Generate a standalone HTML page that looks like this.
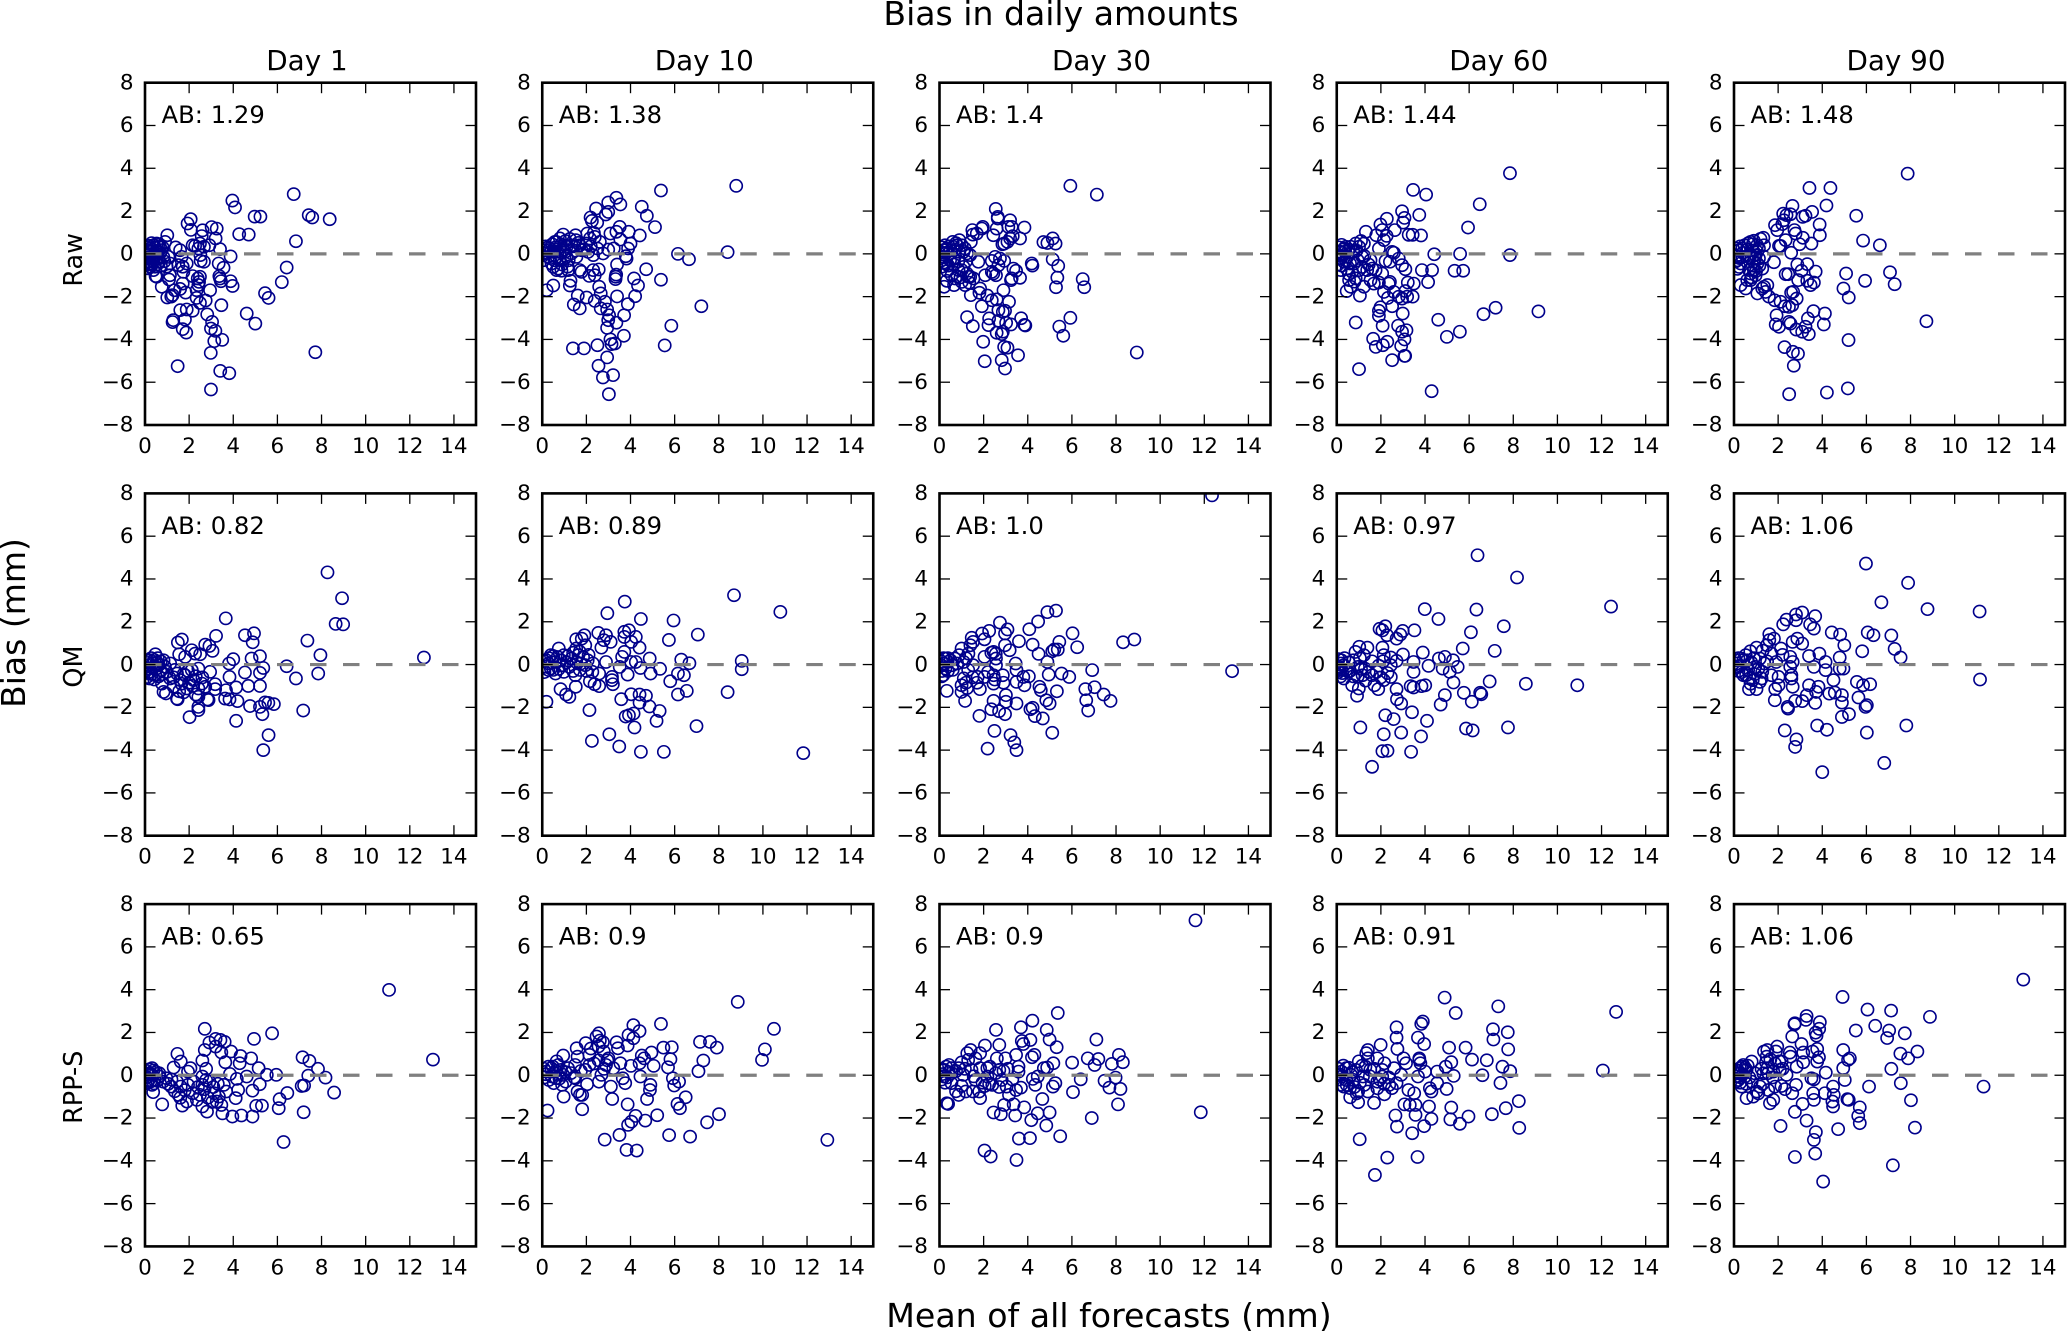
<!DOCTYPE html>
<html lang="en">
<head>
<meta charset="utf-8">
<title>Bias in daily amounts</title>
<style>
html,body{margin:0;padding:0;background:#fff;}
svg{display:block;}
text{font-family:"DejaVu Sans","Liberation Sans",sans-serif;fill:#000;}
</style>
</head>
<body>
<svg id="figure" xmlns="http://www.w3.org/2000/svg" width="2067" height="1331" viewBox="0 0 2067 1331">
<rect x="0" y="0" width="2067" height="1331" fill="#fff"/>
<text x="1061" y="25" text-anchor="middle" font-size="33.1">Bias in daily amounts</text>
<text x="1109" y="1327" text-anchor="middle" font-size="33.2">Mean of all forecasts (mm)</text>
<text transform="translate(25 623) rotate(-90)" text-anchor="middle" font-size="33">Bias (mm)</text>
</svg>
<script>
const rowLabels = ['Raw','QM','RPP-S'];
const dayLabels = ['Day 1','Day 10','Day 30','Day 60','Day 90'];
const abRaw = ['1.29','1.38','1.4','1.44','1.48'];
const abQm = ['0.82','0.89','1.0','0.97','1.06'];
const abRpp = ['0.65','0.9','0.9','0.91','1.06'];
const xTicks = [0,2,4,6,8,10,12,14];
const yTicks = [-8,-6,-4,-2,0,2,4,6,8];

const rawDay1 = [[6.74,2.79],[3.96,2.49],[4.08,2.17],[4.97,1.74],[5.23,1.74],[7.42,1.81],[7.58,1.7],[8.37,1.62],[6.84,.59],[4.27,.92],[4.7,.9],[2.07,1.62],[1.93,1.42],[2.08,1.12],[2.61,1.1],[3.02,1.25],[3.25,1.18],[3.2,.72],[2.57,.83],[1.01,.87],[3.4,.22],[3.88,-.12],[6.42,-.64],[6.2,-1.32],[5.44,-1.84],[5.6,-2.06],[4.61,-2.79],[5,-3.26],[7.72,-4.6],[3.46,-2.4],[2.95,-1.7],[2.82,-2.83],[3.04,-3.18],[2.99,-3.49],[3.19,-3.6],[3.14,-4.08],[3.5,-4.02],[2.98,-4.63],[1.48,-5.25],[3.41,-5.47],[3.82,-5.58],[2.99,-6.34],[1.28,-3.1],[1.25,-3.19],[1.81,-3.07],[1.71,-3.52],[1.87,-3.68],[1.6,-2.63],[1.89,-2.6],[2.16,-2.66],[2.75,-2.18],[2.49,-2.29],[2.34,-2.06],[1.01,-2.04],[1.25,-1.93],[1.19,-2],[1.34,-1.7],[1.84,-1.81],[.76,-1.54],[1.71,-1.39],[1.59,-1.64],[2.34,-1.7],[2.42,-1.46],[2.49,-1.07],[2.45,-1.31],[2.39,-1.15],[2.16,-1.04],[3.37,-1.04],[3.44,-1.28],[3.4,-1.15],[3.88,-1.28],[3.97,-1.5],[3.34,-.45],[3.56,-.65],[2.67,-.37],[2.52,-.33],[2.51,-.06],[2.27,.37],[2.16,.4],[2.49,.48],[2.67,.33],[2.92,.4],[2.42,.25],[1.89,-.45],[1.71,-.6],[1.51,-.53],[1.74,-.84],[1.13,-1],[1.09,-1.2],[.53,-1.07],[.48,-1.04],[1.13,-.45],[1.06,-.14],[1.39,.3],[1.59,.17],[1.66,-.14],[.91,.56],[.38,.4],[.53,.48],[.68,.33],[.23,.25],[.15,-.06],[.08,-.22],[.23,-.45],[.45,-.6],[.65,-.37],[.83,-.14],[.6,.09],[.38,.02],[.2,.09],[.08,.17],[.3,-.22],[.53,-.22],[.75,.17],[.15,-.68],[.38,-.76],[.98,-.6]];
const rawDay1Core = [[.1,.3],[.3,.5],[.45,.3],[.6,.42],[.7,.05],[.28,.12],[.5,-.08],[.15,-.35],[.35,-.35],[.55,-.5],[.72,-.55],[.25,-.6],[.12,-.5],[.42,-.14],[.62,-.2],[.05,0],[.18,.38],[.8,.3],[.88,-.35],[.32,-.5],[.06,-.42],[.52,.15]];

const rawDay10 = [[8.79,3.18],[5.38,2.96],[3.36,2.62],[3.54,2.31],[2.99,2.4],[2.44,2.12],[4.51,2.2],[4.74,1.78],[5.11,1.25],[2.99,1.96],[2.88,1.84],[2.19,1.7],[2.25,1.54],[2.49,1.46],[3.51,1.26],[3.36,1.03],[3.92,1.03],[3.09,.95],[4.42,.86],[3.54,.67],[4,.48],[3.89,.25],[3.24,.25],[2.99,.2],[2.04,.95],[2.34,.98],[2.38,.79],[2.16,.72],[1.51,.87],[.95,.9],[.8,.72],[.57,.56],[1.52,.64],[1.63,.51],[1.33,.4],[1.1,.33],[1.98,.48],[2.61,.56],[2.76,.02],[6.15,0],[6.65,-.25],[8.4,.08],[3.82,-.22],[3.79,-.11],[3.39,-.5],[4.71,-.72],[3.35,-.97],[3.32,-1.18],[3.33,-1.07],[4.16,-1.15],[5.38,-1.21],[4.34,-1.48],[4.21,-1.98],[3.39,-1.99],[3.88,-2.35],[3.71,-2.87],[7.21,-2.45],[5.85,-3.36],[5.55,-4.28],[2.58,-1.54],[2.65,-1.85],[2.84,-2.24],[2.65,-2.55],[2.94,-2.6],[2.38,-2.2],[2.01,-2.04],[1.61,-1.95],[1.43,-2.37],[1.7,-2.55],[.2,-1.7],[.5,-1.48],[1.25,-1.48],[1.28,-1.26],[1.18,-.76],[.87,-.79],[.72,-.69],[.5,-.61],[1.7,-.76],[1.78,-.84],[2.13,-1.03],[2.31,-.76],[2.38,-1],[2.56,-.73],[3.03,-2.87],[2.99,-3.1],[3.36,-3.22],[2.94,-3.46],[3.7,-3.83],[3.09,-4],[3.29,-4.19],[3.14,-4.22],[2.5,-4.27],[1.39,-4.42],[1.89,-4.42],[2.94,-4.84],[2.55,-5.23],[3.21,-5.67],[2.75,-5.78],[3.02,-6.56],[.05,-.3],[.12,.17],[.35,.25],[.5,.09],[.65,-.14],[.27,-.14],[.42,-.45],[.8,-.3],[1.1,-.14],[1.03,.09],[1.33,.02],[1.55,-.14],[2.08,.09],[2.31,-.06],[1.78,.17],[.2,.02],[.8,.33],[.05,.05],[.65,-.76]];
const rawDay10Core = [[.25,.3],[.45,.45],[.65,.55],[.85,.45],[1.05,.6],[1.25,.7],[1.45,.35],[1.7,.4],[1.9,.2],[.95,.15],[.7,.1],[.4,.1],[.15,.35],[.55,-.3],[.9,-.5],[1.2,-.3],[.35,-.2],[.6,.3],[1.5,.15],[2.2,.35],[2.5,.25],[1.15,-.6]];

const rawDay30 = [[5.93,3.18],[7.13,2.77],[8.94,-4.61],[2.55,2.1],[2.64,1.73],[2.64,1.65],[3.2,1.57],[3.85,1.23],[3.27,1.26],[3.12,1.26],[2.59,1.18],[1.96,1.26],[1.92,1.18],[1.49,1.11],[1.69,.95],[1.51,.9],[1.42,.56],[2.44,.87],[3.65,.72],[3.32,.83],[3.2,.72],[3.08,.56],[2.93,.48],[2.85,.45],[4.71,.55],[5.13,.72],[4.89,.51],[5.26,.48],[.9,.64],[.6,.56],[.78,.4],[1.01,.4],[.63,.33],[.33,.25],[.18,.17],[1.24,.02],[1.76,-.37],[2.52,-.14],[2.74,-.22],[2.93,-.33],[2.37,-.33],[2.67,-.53],[2.37,-.84],[2.56,-1],[2.44,-.92],[2.07,-1],[3.35,-.69],[3.47,-.79],[3.65,-1.12],[3.24,-1.23],[3.27,-1.15],[4.18,-.45],[4.21,-.55],[5.13,-.26],[5.38,-.56],[5.34,-1.11],[5.28,-1.56],[6.49,-1.18],[6.56,-1.56],[2.9,-1.7],[3.15,-2.24],[1.84,-1.62],[1.81,-1.82],[1.42,-1.93],[2.17,-1.95],[2.37,-2.17],[2.59,-2.13],[1.92,-2.45],[2.97,-2.66],[2.67,-2.63],[2.87,-2.71],[1.25,-2.96],[1.51,-3.38],[2.25,-3.02],[2.67,-3.13],[2.22,-3.33],[3.02,-3.22],[3.24,-3.3],[3.7,-3.01],[3.85,-3.32],[3.89,-3.35],[5.93,-2.99],[5.43,-3.4],[5.61,-3.83],[2.59,-3.69],[2.82,-3.75],[2.87,-3.64],[1.98,-4.11],[2.93,-4.35],[3.08,-4.39],[3.56,-4.74],[2.82,-4.97],[2.05,-5.02],[2.97,-5.36],[.26,-.45],[.33,-1.26],[.21,-1.54],[.66,-1.46],[.71,-1.15],[1.09,-.61],[1.24,-.92],[1.01,-1.31],[1.16,-1.46],[1.39,-1.07],[.86,-.76],[1.54,-1.15],[1.01,-.76],[.48,-.3],[.11,-.3],[.18,-.14],[1.31,-1.07],[.63,-.22],[1.39,-.06],[1.09,.09]];
const rawDay30Core = [[.1,.3],[.25,.4],[.42,.35],[.5,.15],[.7,.2],[.9,.1],[.3,.05],[.12,.05],[.2,-.4],[.4,-.55],[.65,-.5],[.85,-.35],[.1,-.6],[.35,-.8],[.55,-1],[.8,-1.05],[1.2,-.35],[.05,-.2],[.75,.5],[1.15,.25],[.95,-1.1],[1.35,-1.35]];

const rawDay60 = [[7.85,3.77],[3.46,2.99],[4.05,2.77],[6.48,2.32],[3.74,1.82],[2.96,1.99],[3.07,1.68],[3.01,1.46],[2.27,1.64],[1.98,1.37],[2.06,1.11],[5.95,1.23],[2.63,1.11],[1.32,1.03],[1.79,.87],[2.26,.84],[2.14,.64],[3.26,.89],[3.44,.89],[3.82,.86],[1.91,.25],[2.51,.09],[2.59,.05],[4.42,-.02],[5.59,0],[7.85,-.06],[1.23,.48],[.86,.48],[1.01,.33],[.63,.33],[.33,.25],[.18,.09],[.41,.33],[2.81,-.22],[2.21,-.33],[2.41,-.37],[2.96,-.53],[3.11,-.72],[3.86,-.76],[4.32,-.76],[5.34,-.79],[5.73,-.79],[4.14,-1.32],[3.49,-1.39],[3.22,-1.34],[2.41,-1.31],[2.36,-1.39],[2.14,-1.78],[2.59,-1.78],[3.11,-1.74],[3.19,-2],[3.44,-2],[2.81,-2],[2.96,-2.09],[2.32,-2.06],[2.51,-2.45],[1.98,-2.5],[1.91,-2.66],[1.91,-2.9],[2.99,-2.79],[2.08,-3.36],[2.78,-3.36],[3.16,-3.57],[2.96,-3.64],[3.07,-4],[2.92,-4.3],[2.29,-4.11],[2.09,-4.27],[1.65,-3.97],[1.77,-4.35],[3.07,-4.77],[3.1,-4.77],[2.51,-4.97],[1.01,-5.39],[.86,-3.21],[4.6,-3.08],[4.99,-3.88],[5.58,-3.64],[6.65,-2.82],[7.2,-2.52],[9.14,-2.69],[4.3,-6.42],[1.05,-1.95],[.45,-1.74],[.63,-1.54],[.86,-1.15],[1.23,-1.54],[1.53,-1.23],[1.68,-1.39],[1.91,-1.34],[1.01,-.76],[1.16,-.61],[1.38,-.76],[1.61,-.69],[1.76,-.76],[.56,-1.23],[.18,-.76],[.33,-.37],[.18,-.22],[.78,-.45],[1.16,-.14],[1.53,-.3],[2.06,-.92],[.1,-.06],[.48,-.14]];
const rawDay60Core = [[.1,.3],[.22,.42],[.38,.1],[.55,.2],[.75,.1],[.9,.15],[.1,-.2],[.25,-.1],[.4,-.3],[.6,-.45],[.05,-.5],[.22,-.55],[.45,-.7],[.7,-.85],[.95,-.3],[1.25,-.1],[1.45,-.5],[.3,.2],[.12,.1],[1.1,.6],[.55,-.95],[.8,-1.3]];

const rawDay90 = [[7.87,3.75],[3.42,3.08],[4.37,3.08],[4.19,2.26],[2.65,2.24],[3.54,1.96],[3.24,1.78],[3.11,1.73],[2.23,1.88],[2.38,1.81],[2.56,1.85],[5.54,1.78],[3.88,1.37],[2.26,1.57],[2.19,1.39],[1.86,1.34],[1.96,1.11],[2.74,1.11],[2.79,.95],[3.89,.87],[3.12,.75],[2.34,.64],[3.51,.48],[2.97,.45],[5.85,.62],[6.61,.4],[2.04,.37],[2.11,.37],[2.59,.05],[1.33,.75],[.9,.61],[.75,.56],[1.36,.4],[1.13,.25],[.38,.25],[.23,.17],[1.81,-.39],[2.87,-.5],[3.32,-.48],[3.06,-.79],[3.7,-.83],[2.34,-.95],[2.46,-.95],[2.91,-1.23],[3.32,-1.26],[3.62,-1.34],[3.47,-1.46],[5.08,-.92],[7.07,-.86],[7.28,-1.42],[5.94,-1.26],[4.96,-1.62],[5.2,-2.04],[2.59,-1.81],[2.68,-1.78],[2.84,-2.09],[2.64,-2.4],[2.49,-2.48],[2.31,-2.45],[2.11,-2.24],[1.84,-2.17],[1.58,-2],[3.6,-2.68],[4.12,-2.79],[3.35,-3.02],[4.07,-3.3],[8.72,-3.15],[1.93,-2.87],[1.89,-3.3],[2.04,-3.41],[2.49,-3.18],[2.56,-3.26],[2.82,-3.54],[3.09,-3.64],[3.24,-3.41],[3.39,-3.75],[5.19,-4.03],[2.29,-4.36],[2.67,-4.58],[2.9,-4.67],[2.71,-5.23],[2.5,-6.56],[4.21,-6.48],[5.16,-6.29],[1.06,-1.85],[.53,-1.62],[.3,-1.46],[.75,-1.23],[1.36,-1.54],[1.51,-1.46],[1.43,-1.78],[1.28,-1.62],[.9,-.76],[.98,-1],[.75,-.92],[1.28,-.69],[1.06,-.45],[.23,-.61],[.15,-.3],[.38,-.14],[.98,-.06],[1.13,-.22],[1.36,-.14],[.68,-.76],[.9,-.37],[.6,-1.23]];
const rawDay90Core = [[.1,.25],[.28,.35],[.48,.4],[.65,.5],[.85,.45],[1.05,.4],[.6,.2],[.85,.15],[1.05,.1],[.1,-.1],[.25,-.2],[.08,-.35],[.3,-.45],[.15,-.7],[.95,-.2],[1.15,-.55],[.85,-.55],[.7,-.15],[1.0,-.8],[.8,-1.1],[.4,.05],[1.2,.7]];

const qmDay1 = [[8.27,4.31],[8.93,3.1],[8.64,1.9],[8.98,1.88],[12.64,.33],[3.66,2.16],[3.22,1.34],[4.53,1.37],[4.94,1.46],[4.88,1.04],[7.36,1.12],[7.95,.44],[5.21,.39],[4.83,.28],[4,.25],[3.81,.05],[1.67,1.17],[1.49,1.03],[2.73,.93],[2.92,.87],[3.06,.64],[2.12,.67],[1.55,.48],[1.82,.36],[2.27,.51],[2.5,.48],[.47,.48],[6.42,-.08],[6.84,-.65],[7.85,-.42],[5.36,-.16],[5.21,-.39],[4.53,-.37],[3.83,-.58],[2.95,-.34],[4.68,-1],[5.21,-1],[4.13,-1.07],[3.67,-1.2],[3.18,-.92],[3.18,-1.15],[3.63,-1.59],[3.83,-1.63],[4.19,-1.71],[4.76,-1.94],[5.21,-1.98],[5.32,-2.32],[5.44,-1.77],[5.59,-1.79],[5.84,-1.85],[7.17,-2.15],[4.13,-2.63],[5.6,-3.3],[5.36,-4],[2.02,-2.46],[2.42,-1.98],[2.42,-2.13],[2.88,-1.66],[2.83,-1.63],[2.42,-1.51],[1.48,-1.62],[1.45,-1.59],[.95,-1.35],[.84,-1.28],[2.42,-1.12],[2.58,-.89],[2.2,-.73],[1.9,-1.12],[1.6,-.73],[1.3,-1.04],[1.14,-.65],[1.45,-.42],[1.82,-.5],[2.12,-.26],[2.42,-.19],[2.73,-1.04],[.77,-.89],[.99,-.34],[1.14,.05],[.84,.2],[.54,.12],[.24,.2],[.09,-.03],[.24,-.34],[.47,-.5],[.69,-.26],[.39,-.11],[.62,-.03],[.17,-.19],[.09,-.58]];
const qmDay1Core = [[.1,.2],[.28,.3],[.42,.22],[.58,.3],[.72,.15],[.35,.05],[.15,.08],[.5,-.2],[.3,-.45],[.12,-.4],[.62,-.55],[.8,-.45],[.2,-.65],[.42,-.7],[.05,-.25],[.9,-.1],[1.3,-.6],[1.65,-.9],[2,-.85],[1.75,-.45],[2.3,-.55],[2.6,-.6],[1.35,-.25],[1.95,-.3],[2.15,-1],[1.55,-1.25],[1.75,-1.3],[2.3,-1.4]];

const qmDay10 = [[3.74,2.94],[2.95,2.4],[4.47,2.13],[5.95,2.06],[8.69,3.24],[10.79,2.46],[11.83,-4.14],[7.05,1.4],[5.74,1.15],[8.4,-1.29],[9.04,.17],[9.04,-.22],[6.67,.06],[6.3,.23],[6.99,-2.88],[5.51,-4.08],[4.47,-4.08],[3.49,-3.83],[3.04,-3.26],[2.25,-3.57],[4.18,-2.94],[5.18,-2.63],[5.32,-2.17],[4.86,-1.96],[4.41,-1.78],[4.7,-1.46],[4.41,-1.4],[4.03,-1.39],[3.58,-1.62],[4.14,-2.29],[3.93,-2.37],[3.78,-2.43],[2.14,-2.13],[6.55,-1.23],[6.15,-1.4],[5.8,-.78],[6.42,-.5],[6.15,-.42],[5.34,-.2],[4.91,-.42],[4.87,.28],[4.45,-.16],[3.87,-.47],[3.2,-.92],[3.16,-.73],[3.16,-.58],[2.58,-1.01],[2.37,-.92],[2.16,-.78],[1.52,-1.04],[1.23,-1.51],[1.08,-1.4],[.83,-1.15],[.19,-1.74],[1.5,-.5],[2.58,-.42],[2.27,-.34],[4.24,.12],[4.03,.12],[3.51,-.11],[3.62,.36],[3.72,.59],[4.41,.79],[4.24,1.29],[3.93,1.6],[3.72,1.53],[3.72,1.29],[4.03,1.06],[2.89,.12],[3.1,1.06],[2.79,1.14],[2.89,1.37],[2.54,1.48],[2.68,.79],[1.91,1.37],[1.79,1.21],[1.54,1.18],[1.95,.9],[1.54,.75],[1.64,.44],[2.06,.2],[.75,.75],[.39,.44],[.19,.2],[.6,.12],[.98,.44],[.89,-.03],[.39,-.19],[.6,-.42],[1.23,-.11],[1.33,.28],[1.54,.12],[1.95,-.03],[.29,.05],[.98,-.34]];
const qmDay10Core = [[.1,.15],[.3,.3],[.5,.4],[.7,.35],[.85,.2],[.45,.1],[.15,-.1],[.28,-.25],[.5,-.25],[.75,-.2],[1.15,.4],[1.4,.55],[1.7,.6],[1.85,.35],[1.1,.1],[1.75,.05],[2.1,.45],[1.4,-.3],[1.7,-.25],[2,-.3],[2.3,.05],[.1,-.35]];

const qmDay30 = [[12.35,7.91],[13.26,-.31],[5.28,2.52],[4.89,2.45],[4.47,2.01],[4.07,1.65],[2.74,1.96],[3.08,1.64],[6.03,1.46],[6.24,.81],[5.43,1.06],[8.32,1.04],[8.83,1.17],[3.6,1.09],[4.22,.93],[4.49,.5],[5.2,.7],[5.36,.7],[5.11,.62],[4.89,.12],[3.18,.67],[2.97,.9],[2.97,1.45],[2.25,1.57],[1.93,1.45],[1.46,1.25],[2.04,1.18],[1.52,1.06],[2.45,.59],[2.56,.28],[2.04,.36],[1,.75],[1.31,.51],[3.45,.05],[3.49,-.26],[6.92,-.26],[5.53,-.42],[5.88,-.58],[4.95,-.47],[4.05,-.55],[3.8,-.58],[3.49,-.81],[3.85,-.97],[4.53,-1.04],[4.59,-1.2],[5.32,-1.25],[6.61,-1.15],[7.03,-1.06],[7.44,-1.4],[6.65,-1.67],[7.75,-1.7],[6.74,-2.15],[4.99,-1.82],[4.84,-1.67],[3.49,-1.82],[3.01,-1.43],[3.01,-1.74],[2.45,-1.7],[2.35,-2.09],[2.7,-2.18],[2.97,-2.32],[1.16,-1.7],[1.83,-1.15],[.33,-1.23],[1,-1.28],[1.81,-2.4],[4.22,-2.02],[4.12,-2.09],[4.32,-2.41],[4.68,-2.52],[5.11,-3.19],[2.49,-3.1],[3.22,-3.3],[3.39,-3.64],[3.49,-4],[2.18,-3.93],[1.1,-.65],[1.73,-.58],[2.04,-.58],[2.45,-.5],[2.87,-.5],[2.56,-.03],[1.52,-.03],[1.1,.12],[.69,.28],[.37,.12],[.27,-.19],[.17,-.5],[1,-.97],[2.45,-.89],[.58,-.03],[.89,.44],[.27,.28]];
const qmDay30Core = [[.08,.15],[.18,.3],[.38,.3],[.5,.2],[.1,-.05],[.22,.05],[.12,-.3],[.38,-.3],[.6,-.25],[.1,-.55],[.8,.05],[1.2,.3],[1.3,-.25],[1.5,-.6],[1.2,-.85],[1.25,-1.1],[1.7,-.85],[2.2,-.35],[2.5,-.7],[2.9,-.85],[2.35,.55],[2.55,.5],[1.4,.9]];

const qmDay60 = [[6.38,5.11],[8.17,4.07],[12.43,2.71],[3.99,2.59],[4.61,2.13],[6.33,2.57],[7.57,1.79],[6.08,1.51],[3.52,1.6],[2.99,1.57],[2.88,1.4],[2.71,1.21],[2.2,1.79],[1.94,1.67],[2.07,1.6],[2.28,1.37],[5.71,.75],[7.16,.64],[3.9,.56],[3,.47],[2.07,.79],[1.39,.79],[1.02,.83],[.85,.59],[1.23,.44],[4.9,.36],[4.63,.28],[5.27,.2],[5.48,-.11],[4.16,-.06],[3.48,.12],[2.13,.44],[2.45,.33],[2.71,.17],[8.57,-.9],[10.9,-.97],[6.93,-.79],[5.29,-.84],[4.01,-.97],[3.84,-1.01],[3.48,-1.07],[3.35,-1.01],[2.71,-1.15],[5.76,-1.32],[6.5,-1.32],[6.55,-1.39],[4.9,-1.43],[4.71,-1.87],[6.12,-1.74],[2.73,-1.62],[2.92,-1.82],[3.41,-2.23],[4.09,-2.63],[2.2,-2.37],[2.58,-2.55],[2.13,-3.26],[2.92,-3.18],[3.82,-3.36],[1.07,-2.94],[5.86,-2.99],[6.16,-3.08],[7.76,-2.94],[2.07,-4.05],[2.3,-4.03],[3.37,-4.08],[1.6,-4.78],[.92,-1.46],[1,-1.12],[.7,-.97],[1.71,-.97],[1.88,-1.15],[5.12,-.34],[4.8,-.19],[3.48,-.34],[2.45,-.58],[2.13,-.73],[1.6,-.5],[1.17,-.5],[.32,-.65],[.53,-.34],[.21,.2],[.32,-.03],[1.28,-.19],[1.81,-.34],[2.45,-.03],[.75,.2],[.11,-.26],[.96,-.11]];
const qmDay60Core = [[.08,.25],[.2,.05],[.35,.3],[.55,.1],[.08,-.1],[.2,-.2],[.08,-.35],[.25,-.4],[.42,-.25],[.6,-.3],[.18,-.55],[.75,-.55],[.95,-.55],[1.3,-.75],[1.45,-.35],[1.1,-.2],[1.9,-.05],[2.1,.15],[2.3,-.4],[2,-.6],[1.6,.15],[1.05,.3]];

const qmDay90 = [[5.98,4.72],[7.89,3.82],[6.68,2.91],[8.77,2.59],[11.13,2.48],[11.15,-.7],[3.09,2.43],[2.81,2.34],[2.81,2.07],[3.68,2.26],[3.45,1.88],[3.62,1.68],[2.38,2.1],[2.23,1.88],[4.43,1.5],[4.81,1.4],[6.06,1.5],[6.32,1.37],[7.13,1.36],[5,.9],[7.28,.73],[5.81,.62],[7.55,.33],[3.87,.51],[3.4,.4],[4.79,.33],[4.15,.12],[3.62,-.11],[4.15,-.26],[4.79,-.19],[4.96,-.19],[4.51,-.73],[5.57,-.81],[5.85,-.97],[6.17,-.92],[3.83,-1.04],[3.4,-.97],[3.72,-1.28],[4.32,-1.36],[4.57,-1.31],[4.89,-1.43],[5.64,-1.54],[4.89,-1.78],[3.68,-1.79],[3.09,-1.71],[2.77,-1.7],[3.3,-1.43],[1.85,-1.67],[2.45,-2.06],[2.43,-1.98],[5.96,-1.98],[6.02,-1.9],[5.21,-2.32],[4.89,-2.45],[3.77,-2.85],[4.21,-3.05],[6.02,-3.18],[7.81,-2.85],[2.3,-3.08],[2.83,-3.5],[2.77,-3.85],[6.81,-4.6],[4,-5.03],[1.6,1.42],[1.81,1.21],[1.6,1.14],[2.66,1.06],[2.87,1.21],[3.09,.98],[1.02,.79],[1.49,.9],[2.13,.75],[1.7,.51],[2.55,.36],[1.91,.12],[2.66,.12],[2.55,-.11],[2.6,-.5],[2.66,-1.04],[2.6,-.65],[2.02,-.97],[1.87,-1.15],[.68,-1.15],[1.02,-1.15],[1.17,-.81],[.85,-.73],[.43,-.5],[1.28,-.34],[1.7,-.5],[2.02,-.58],[.64,-.26],[.32,.28],[.53,.44],[.74,.62],[1.17,.28],[.21,-.11],[.96,-.11],[1.38,.05]];
const qmDay90Core = [[.08,.2],[.2,.3],[.42,.2],[.6,.2],[.78,.1],[.12,.05],[.28,-.05],[.08,-.15],[.2,-.3],[.35,-.35],[.55,-.5],[.7,-.65],[.95,-.45],[1.1,-.2],[1.25,-.65],[.75,-.9],[1.5,.15],[1.3,.65],[2.2,.45],[.9,.3]];

const rppDay1 = [[11.06,3.99],[13.05,.73],[2.71,2.17],[5.76,1.96],[4.94,1.7],[3.2,1.7],[3.42,1.65],[3.61,1.56],[2.92,1.53],[3.2,1.34],[2.71,1.18],[3.46,1.07],[3.9,1.11],[1.47,1],[2.6,.69],[1.62,.64],[3.64,.61],[4.33,.9],[4.29,.56],[4.81,.79],[7.14,.84],[7.45,.67],[7.84,.3],[5.15,.33],[2.77,.3],[2.06,.33],[1.3,.36],[5.52,.02],[5.95,.02],[3.85,.06],[7.4,-.02],[8.18,-.11],[4.61,-.06],[4.16,-.17],[2.77,-.22],[5.2,-.42],[7.1,-.5],[7.21,-.48],[3.57,-.45],[2.6,-.45],[4.22,-.69],[4.87,-.72],[6.45,-.83],[8.57,-.81],[6.1,-1.12],[4.11,-1.07],[5.3,-1.42],[5.04,-1.43],[6.06,-1.54],[7.19,-1.73],[4.87,-1.93],[4.37,-1.88],[3.96,-1.93],[3.51,-1.78],[2.81,-1.7],[2.6,-1.46],[3.25,-1.23],[3.46,-1.39],[6.28,-3.12],[.78,-1.36],[.37,-.79],[1.69,-1.42],[1.9,-1.23],[1.52,-.92],[2.16,-.84],[2.49,-.92],[1.19,-.53],[1.62,-.53],[1.95,-.45],[3.14,-.84],[3.68,-.76],[3.35,-1],[.97,-.14],[.65,.09],[.32,.33],[.22,.09],[.32,-.45],[.17,-.22],[.43,-.22],[.65,-.06],[2.6,-.06],[1.95,.17],[2.92,-.3],[.11,-.37]];
const rppDay1Core = [[.08,.2],[.2,.28],[.38,.22],[.5,.15],[.1,.05],[.32,.02],[.08,-.1],[.25,-.3],[.4,-.38],[.55,-.25],[.82,-.3],[1.05,-.4],[1.2,-.2],[1.45,-.3],[1.35,-.75],[1.6,-1.05],[2.4,-.55],[2.7,-.65],[3.1,-.55],[3.3,-.4],[2.85,-1.05],[2.2,-.3],[3.05,-1.25],[1.8,-.7],[2.35,-1.15]];

const rppDay10 = [[8.86,3.43],[10.5,2.17],[10.09,1.21],[9.96,.72],[12.92,-3.02],[8.01,-1.82],[7.47,-2.2],[6.7,-2.87],[5.75,-2.8],[5.21,-1.87],[4.67,-2.12],[4.23,-1.9],[4.04,-2.17],[3.89,-2.32],[3.5,-2.79],[2.83,-3.01],[3.82,-3.49],[4.28,-3.52],[3.87,-1.36],[3.17,-1.11],[1.81,-1.59],[.24,-1.65],[.97,-1],[1.71,-.92],[6.5,-1.03],[6.24,-1.54],[6.13,-1.34],[4.75,-1.11],[4.88,-.69],[4.9,-.45],[5.38,2.4],[4.13,2.34],[4.41,2.06],[3.91,1.88],[4.13,1.73],[3.87,1.39],[5.49,1.29],[5.87,1.31],[7.15,1.56],[7.6,1.56],[7.91,1.29],[7.3,.69],[7.08,.19],[5.81,.75],[5.7,.37],[5.05,.44],[4.95,1.06],[4.51,.92],[4.62,.79],[4.41,.56],[4.02,.44],[4.45,-.06],[5.92,-.14],[6.2,-.3],[5.98,-.48],[3.11,-.53],[3.76,-.37],[3.65,-.14],[2.57,1.96],[2.46,1.81],[2.61,1.62],[3.37,1.54],[3.43,1.26],[1.97,1.5],[1.56,1.26],[2.79,1.11],[.95,.92],[1.6,.87],[2.14,.95],[3,.79],[2.89,.48],[3.54,.56],[2.14,.48],[1.49,.48],[3.22,.33],[2.68,.02],[2.57,-.3],[2.03,-.42],[1.6,-.76],[1.81,-.92],[1.49,-.14],[.95,.02],[.52,-.37],[.41,.33],[.73,.48],[.63,-.14],[.19,.17],[.3,-.22],[1.17,.33],[1.06,-.3]];
const rppDay10Core = [[.08,.3],[.28,.4],[.48,.4],[.62,.2],[.85,.25],[1.05,.15],[.1,-.1],[.42,-.05],[.78,-.15],[1.3,.1],[1.45,-.1],[.15,.05],[.65,.65],[1.75,.2],[1.95,.25],[2.35,.55],[2.55,.7],[2.8,.3],[2.2,1.25],[2.55,1.35],[2.75,1.55],[2.95,.7],[.9,-.45]];

const rppDay30 = [[11.6,7.24],[11.84,-1.73],[5.36,2.91],[4.21,2.55],[3.69,2.24],[4.86,2.12],[2.56,2.12],[4.12,1.65],[3.73,1.6],[3.8,1.46],[4.99,1.67],[5.31,1.31],[2.71,1.42],[2.06,1.39],[7.11,1.67],[8.13,.95],[8.31,.61],[7.81,.53],[7.2,.76],[6.72,.79],[7.03,.48],[6.01,.59],[5.16,.56],[4.88,.36],[4.73,.33],[4.3,.95],[4.19,.84],[3.47,.95],[3.58,.4],[3.58,.17],[2.99,.79],[2.6,.79],[2.71,.25],[1.41,1.18],[1.26,1.03],[1.84,1.03],[1.63,.79],[1.3,.72],[2.28,.4],[6.4,-.19],[7.98,-.11],[7.48,-.26],[7.7,-.58],[8.2,-.64],[8.09,-1.36],[6.05,-.79],[5.25,-.37],[5.14,-.53],[4.66,-1.11],[4.99,-1.74],[4.45,-1.78],[4.16,-2.1],[4.84,-2.35],[6.9,-2],[5.47,-2.85],[4.1,-2.94],[3.6,-2.96],[3.43,-1.88],[3.84,-1.5],[3.36,-1.36],[2.78,-1.82],[2.45,-1.74],[2.93,-1.39],[2.04,-3.52],[2.32,-3.8],[3.49,-3.96],[3.69,-.58],[3.47,-.69],[3.15,-.92],[3.04,-.53],[4.34,-.45],[4.23,-.17],[4.45,-.06],[2.39,-.45],[1.84,-1.07],[1.8,-.76],[1.52,-.76],[1.19,-.76],[.87,-.92],[.39,-1.34],[.33,-1.31],[.54,-.37],[1.08,.02],[1.63,-.22],[2.17,-.06],[2.17,.33],[.43,.48],[.22,.25],[.54,.33],[.87,.33],[.22,-.06],[1.84,.33],[2.82,-.22]];
const rppDay30Core = [[.1,.25],[.3,.4],[.42,.15],[.55,.1],[.75,.2],[.12,.05],[.35,-.1],[.1,-.2],[.25,-.35],[1,.6],[1.15,.3],[1.45,.25],[1.55,-.05],[1.95,-.35],[2.05,-.5],[2.25,-.4],[2.55,.1],[2.9,.2],[3.1,.3],[3.3,-.2],[2.7,-.55],[1,-.5],[.75,-.75]];

const rppDay60 = [[12.66,2.96],[12.06,.22],[4.89,3.63],[5.39,2.91],[7.32,3.22],[3.9,2.51],[3.83,2.4],[2.71,2.24],[2.71,1.76],[7.08,2.15],[7.75,2.01],[7.1,1.67],[3.68,1.76],[3.96,1.46],[1.99,1.42],[1.41,1.18],[1.34,1.03],[2.75,1.23],[5.09,1.29],[5.84,1.29],[7.77,1.21],[6.13,.73],[6.8,.7],[5.19,.61],[7.51,.4],[7.86,.19],[6.6,0],[4.94,.4],[5.3,-.03],[4.55,.17],[4,.17],[3.74,.72],[3.74,.79],[3.79,.56],[3.03,.79],[3.14,.56],[1.84,.79],[1.41,.79],[1.3,.4],[2.16,.56],[2.6,.33],[2.06,.25],[1.52,.25],[7.42,-.36],[8.25,-1.21],[7.66,-1.54],[7.03,-1.82],[5.97,-1.93],[5.58,-2.27],[5.15,-2.06],[5.19,-1.51],[8.27,-2.46],[4.98,-.64],[4.55,-.37],[4.29,-.76],[4.22,-.61],[4.18,-1.46],[4.29,-2.04],[3.96,-2.38],[3.57,-1.85],[3.42,-2.71],[2.73,-2.4],[2.66,-1.88],[3.66,-3.82],[2.29,-3.85],[1.04,-2.99],[1.73,-4.66],[3.07,-1.36],[3.31,-1.39],[3.57,-1.39],[3.25,-.69],[3.51,-.84],[1.69,-1.29],[.97,-1.26],[.61,-1.03],[.97,-.76],[1.41,-.76],[2.16,-.89],[1.84,-.61],[2.38,-.45],[2.71,-.37],[3.68,-.06],[2.92,.02],[1.84,-.3],[2.06,-.06],[1.19,-.06],[.32,-.53],[.43,-.22],[.65,.02],[.43,.33],[.22,.17],[.87,.25],[.76,-.22]];
const rppDay60Core = [[.08,.3],[.3,.45],[.55,.35],[.7,.15],[.1,.05],[.25,-.05],[.1,-.2],[.2,-.45],[.45,-.45],[.6,-.6],[.8,-.55],[1.05,-.35],[1.25,-.45],[1.5,-.05],[1.7,.3],[1.95,-.2],[2.15,-.4],[2.35,-.1],[2.5,-.6],[1,.65],[1.15,.45],[.9,-.85]];

const rppDay90 = [[13.11,4.47],[11.31,-.53],[4.92,3.66],[6.05,3.07],[7.12,3.02],[6.4,2.31],[8.88,2.73],[3.29,2.77],[3.26,2.59],[2.76,2.43],[2.74,2.38],[3.89,2.48],[3.86,2.17],[3.7,1.99],[3.74,1.85],[2.64,1.81],[5.52,2.09],[7.03,2.09],[6.94,1.74],[7.74,1.96],[3.06,1.46],[1.96,1.34],[3.77,1.23],[4.95,1.18],[7.54,1.01],[8.31,1.11],[7.89,.79],[5.25,.79],[5.17,.72],[3.85,.84],[3.56,1.11],[3.14,1.06],[2.53,1.06],[2.56,.87],[3.77,.64],[3.14,.61],[2.84,.4],[4.95,.33],[7.13,.3],[4.16,.12],[1.36,1.11],[1.51,1.18],[1.9,1.11],[1.48,.87],[2.16,.64],[1.51,.33],[.8,.64],[.42,.48],[.27,.33],[2.08,.25],[1.33,.09],[2.38,.02],[3.51,-.14],[3.62,-.19],[5.02,-.22],[6.12,-.53],[7.56,-.37],[8.02,-1.17],[8.2,-2.45],[5.7,-1.5],[5.63,-1.9],[5.7,-2.24],[5.2,-1.15],[5.14,-1.12],[4.49,-.53],[4.49,-1.46],[4.46,-1.23],[4.52,-.92],[4.12,-.84],[3.59,-.84],[3.62,-1.15],[2.81,-.45],[2.64,-.84],[3.11,-1.34],[2.76,-1.71],[3.29,-2.12],[2.11,-2.37],[4.72,-2.52],[3.71,-2.66],[3.62,-3.02],[3.68,-3.66],[2.76,-3.82],[4.04,-4.97],[7.2,-4.21],[1.78,-1.15],[1.63,-1.31],[2.31,-.65],[1.03,-.76],[.87,-1],[.57,-1.07],[.35,-.53],[1.86,-.53],[1.55,-.69],[1.18,-.53],[.8,-.3],[.5,-.06],[.2,-.22],[.27,.09],[.57,.25],[.12,.09],[.95,.09],[1.78,.17]];
const rppDay90Core = [[.08,.25],[.2,.2],[.35,.4],[.5,.35],[.62,.45],[.1,-.05],[.3,-.1],[.4,.05],[.1,-.3],[.28,-.35],[.55,-.4],[.7,-.1],[1.25,.3],[1.45,.6],[1.65,.75],[1.85,.55],[1.55,.1],[1.75,-.1],[2.05,.65],[2.2,.3],[1.3,-.4],[1.1,-.85],[2.15,-.5]];

const seriesGrid = [
  [rawDay1.concat(rawDay1Core), rawDay10.concat(rawDay10Core), rawDay30.concat(rawDay30Core), rawDay60.concat(rawDay60Core), rawDay90.concat(rawDay90Core)],
  [qmDay1.concat(qmDay1Core), qmDay10.concat(qmDay10Core), qmDay30.concat(qmDay30Core), qmDay60.concat(qmDay60Core), qmDay90.concat(qmDay90Core)],
  [rppDay1.concat(rppDay1Core), rppDay10.concat(rppDay10Core), rppDay30.concat(rppDay30Core), rppDay60.concat(rppDay60Core), rppDay90.concat(rppDay90Core)]
];
const abGrid = [abRaw, abQm, abRpp];

const SVG_NS = 'http://www.w3.org/2000/svg';
const figure = document.getElementById('figure');
const LEFT0 = 145, COL_STEP = 397.25, PANEL_W = 331;
const TOP0 = 82.7, ROW_STEP = 410.7, PANEL_H = 342.3;
const X_MIN = 0, X_MAX = 15, Y_MIN = -8, Y_MAX = 8;
const TICK_LEN = 10.5;
const ROW_LABEL_SHIFT = [6, 2, 12];

function make(tag, attrs, parent) {
  const el = document.createElementNS(SVG_NS, tag);
  for (const k in attrs) el.setAttribute(k, attrs[k]);
  parent.appendChild(el);
  return el;
}
function fmt(v) { return v < 0 ? '\u2212' + Math.abs(v) : String(v); }

seriesGrid.forEach(function (rowSeries, r) {
  rowSeries.forEach(function (points, c) {
    const left = LEFT0 + c * COL_STEP;
    const top = TOP0 + r * ROW_STEP;
    const xScale = function (v) { return left + (v - X_MIN) / (X_MAX - X_MIN) * PANEL_W; };
    const yScale = function (v) { return top + (Y_MAX - v) / (Y_MAX - Y_MIN) * PANEL_H; };

    const panel = make('g', {}, figure);
    
    

    const clipId = 'clip-' + r + '-' + c;
    const defs = make('defs', {}, panel);
    const clip = make('clipPath', { id: clipId }, defs);
    make('rect', { x: left, y: top, width: PANEL_W, height: PANEL_H }, clip);

    const marks = make('g', { 'clip-path': 'url(#' + clipId + ')' }, panel);
    
    
    points.forEach(function (p) {
      const dot = make('circle', { cx: xScale(p[0]).toFixed(2), cy: yScale(p[1]).toFixed(2), r: 6.1, fill: 'none', stroke: '#00008b', 'stroke-width': 1.6 }, marks);
      
      
    });

    const zero = make('line', { x1: xScale(X_MIN), x2: xScale(X_MAX), y1: yScale(0), y2: yScale(0), stroke: '#808080', 'stroke-width': 3.2, 'stroke-dasharray': '16.5 16.5' }, panel);
    
    

    xTicks.forEach(function (t) {
      const x = xScale(t);
      const tickBottom = make('line', { x1: x, x2: x, y1: top + PANEL_H, y2: top + PANEL_H - TICK_LEN, stroke: '#000', 'stroke-width': 1.3 }, panel);
      
      
      const tickTop = make('line', { x1: x, x2: x, y1: top, y2: top + TICK_LEN, stroke: '#000', 'stroke-width': 1.3 }, panel);
      
      
      const label = make('text', { x: x, y: top + PANEL_H + 28, 'text-anchor': 'middle', 'font-size': 21.5 }, panel);
      
      
      label.textContent = fmt(t);
    });

    yTicks.forEach(function (t) {
      const y = yScale(t);
      const tickLeft = make('line', { x1: left, x2: left + TICK_LEN, y1: y, y2: y, stroke: '#000', 'stroke-width': 1.3 }, panel);
      
      
      const tickRight = make('line', { x1: left + PANEL_W, x2: left + PANEL_W - TICK_LEN, y1: y, y2: y, stroke: '#000', 'stroke-width': 1.3 }, panel);
      
      
      const label = make('text', { x: left - 11.5, y: y + 6.7, 'text-anchor': 'end', 'font-size': 21.5 }, panel);
      
      
      label.textContent = fmt(t);
    });

    const frame = make('rect', { x: left, y: top, width: PANEL_W, height: PANEL_H, fill: 'none', stroke: '#000', 'stroke-width': 2.6 }, panel);
    
    

    const ab = make('text', { x: left + 16.5, y: top + 40.5, 'font-size': 24.3 }, panel);
    
    
    ab.textContent = 'AB: ' + abGrid[r][c];

    if (r === 0) {
      const title = make('text', { x: left + PANEL_W / 2 - 3.5, y: top - 12.5, 'text-anchor': 'middle', 'font-size': 27.8 }, panel);
      
      
      title.textContent = dayLabels[c];
    }
    if (c === 0) {
      const rowLabel = make('text', { transform: 'translate(82 ' + (top + PANEL_H / 2 + ROW_LABEL_SHIFT[r]) + ') rotate(-90)', 'text-anchor': 'middle', 'font-size': 25.5 }, panel);
      
      
      rowLabel.textContent = rowLabels[r];
    }
  });
});
</script>
</body>
</html>
